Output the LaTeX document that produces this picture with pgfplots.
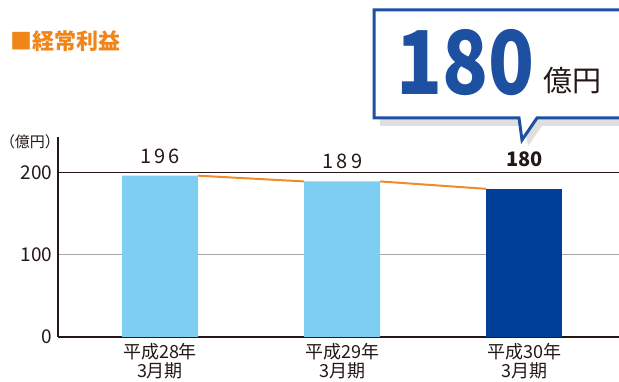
\documentclass[border=0pt]{standalone}
\usepackage{pgfplots}
\pgfplotsset{compat=1.18}
\usepackage{fontspec}
\setmainfont{Noto Sans CJK JP}
\newfontfamily\cjk{Noto Sans CJK JP}
\definecolor{lblue}{HTML}{7ECEF4}
\definecolor{dblue}{HTML}{003F98}
\definecolor{cblue}{HTML}{1E50A2}
\definecolor{orng}{HTML}{F08519}
\definecolor{lorng}{HTML}{F08A2A}
\definecolor{txt}{HTML}{231815}
\begin{document}
\begin{tikzpicture}[x=1pt,y=1pt]
\useasboundingbox (0,0) rectangle (619,382);
% title
\node[anchor=west,text=orng,font=\cjk\bfseries\fontsize{22}{22}\selectfont,inner sep=0] at (10,341) {■経常利益};
\begin{axis}[
  at={(58pt,45pt)}, anchor=south west,
  scale only axis, width=561pt, height=200pt,
  xmin=-0.56, xmax=2.52, ymin=0, ymax=243,
  axis x line=bottom, axis y line=left,
  axis line style={txt, line width=1.2pt, -},
  xtick={0,1,2},
  xticklabels={},
  ytick={0,100,200},
  ymajorgrids, grid style={gray!70, line width=0.8pt},
  major tick length=0pt,
  /pgf/number format/assume math mode=true,
  yticklabel style={font=\cjk\fontsize{19}{19}\selectfont, text=txt, xshift=-2pt},
  clip=false,
]
\draw[txt, line width=0.9pt] (axis cs:-0.56,200) -- (axis cs:2.52,200);
\addplot[ybar, bar width=76pt, bar shift=0pt, fill=lblue, draw=none] coordinates {(0,196) (1,189)};
\addplot[ybar, bar width=76pt, bar shift=0pt, fill=dblue, draw=none] coordinates {(2,180)};
\addplot[lorng, line width=2pt, mark=none] coordinates {(0.209,196) (0.791,189)};
\addplot[lorng, line width=2pt, mark=none] coordinates {(1.209,189) (1.791,180)};
\node[above, font=\cjk\fontsize{20}{20}\selectfont, text=txt, inner sep=0, yshift=12pt] at (axis cs:0,196) {1\,9\,6};
\node[above, font=\cjk\fontsize{20}{20}\selectfont, text=txt, inner sep=0, yshift=12pt] at (axis cs:1,189) {1\,8\,9};
\node[above, font=\cjk\bfseries\fontsize{20}{20}\selectfont, text=txt, inner sep=0, yshift=22pt] at (axis cs:2,180) {180};
\node[below, align=center, font=\cjk\fontsize{18}{19}\selectfont, text=txt, inner sep=0, yshift=-6pt] at (axis cs:0,0) {平成28年\\3月期};
\node[below, align=center, font=\cjk\fontsize{18}{19}\selectfont, text=txt, inner sep=0, yshift=-6pt] at (axis cs:1,0) {平成29年\\3月期};
\node[below, align=center, font=\cjk\fontsize{18}{19}\selectfont, text=txt, inner sep=0, yshift=-6pt] at (axis cs:2,0) {平成30年\\3月期};
\end{axis}
\node[font=\cjk\fontsize{15}{15}\selectfont, text=txt] at (30,240) {（億円）};
% callout
\fill[black!25, opacity=0.5] (380,364) -- (650,364) -- (650,256) -- (542,256) -- (528,236) -- (524,256) -- (380,256) -- cycle;
\draw[cblue, line width=3pt, fill=white, line join=miter]
  (374,372) -- (650,372) -- (650,264) -- (537,264) -- (522,242) -- (519,264) -- (374,264) -- cycle;
\node[anchor=base west, text=cblue, font=\cjk\bfseries\fontsize{88}{88}\selectfont, inner sep=0] at (396,287) {\scalebox{0.86}[1]{180}};
\node[anchor=base west, text=txt, font=\cjk\fontsize{29}{29}\selectfont, inner sep=0] at (543,290) {億円};
\end{tikzpicture}
\end{document}
